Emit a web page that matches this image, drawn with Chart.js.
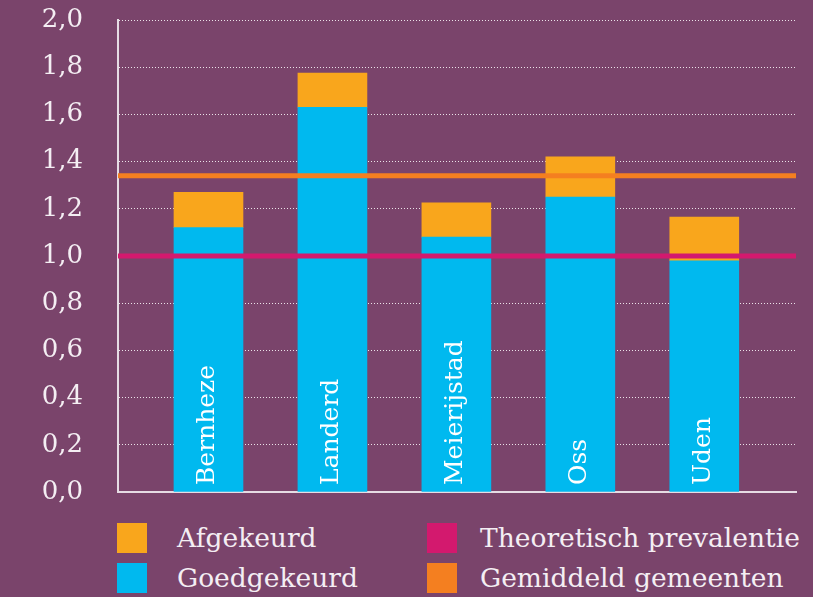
<!DOCTYPE html>
<html>
<head>
<meta charset="utf-8">
<script src="https://cdn.jsdelivr.net/npm/chart.js@4.4.0/dist/chart.umd.min.js"></script>
<style>
  html, body { margin: 0; padding: 0; background: #7a446b; }
  #wrap { position: relative; width: 813px; height: 597px; }
  #box { position: absolute; left: 0; top: 0; width: 813px; height: 505px; }
  .leg { position: absolute; font-family: "DejaVu Serif", serif; font-size: 26.5px; color: #f4eef3; line-height: 30px; white-space: nowrap; }
  .leg span { position: absolute; left: 0; top: 0; width: 30px; height: 30px; }
  .leg b { font-weight: normal; position: absolute; top: 0; }
</style>
</head>
<body>
<div id="wrap">
  <div id="box"><canvas id="chart"></canvas></div>
  <div id="legend"></div>
</div>
<script>
const categories = ['Bernheze', 'Landerd', 'Meierijstad', 'Oss', 'Uden'];
const goedgekeurd = [1.12, 1.63, 1.08, 1.25, 0.98];
const afgekeurd = [0.15, 0.145, 0.145, 0.17, 0.185];
const theoretisch = 1.0;
const gemiddeld = 1.34;

const colors = {
  afgekeurd: '#f9a61c',
  goedgekeurd: '#00b9ef',
  theoretisch: '#d3196e',
  gemiddeld: '#f47f20'
};

const labelFont = '"DejaVu Serif"';

// x runs as 1..5 so bars can sit off the axis edges like the original
const xMin = 0.27, xMax = 5.74;
const toPoints = arr => arr.map((v, i) => ({ x: i + 1, y: v }));

const barLabels = {
  id: 'barLabels',
  afterDatasetsDraw(chart) {
    const ctx = chart.ctx;
    const meta = chart.getDatasetMeta(0);
    const base = chart.scales.y.getPixelForValue(0);
    ctx.save();
    ctx.fillStyle = '#ffffff';
    ctx.font = '25px ' + labelFont;
    ctx.textAlign = 'left';
    ctx.textBaseline = 'middle';
    meta.data.forEach((bar, i) => {
      ctx.save();
      ctx.translate(bar.x - 1, base - 7);
      ctx.rotate(-Math.PI / 2);
      ctx.fillText(categories[i], 0, 0);
      ctx.restore();
    });
    ctx.restore();
  }
};

new Chart(document.getElementById('chart'), {
  type: 'bar',
  data: {
    datasets: [
      {
        label: 'Goedgekeurd',
        data: toPoints(goedgekeurd),
        backgroundColor: colors.goedgekeurd,
        barThickness: 69,
        stack: 'bars',
        order: 2
      },
      {
        label: 'Afgekeurd',
        data: toPoints(afgekeurd),
        backgroundColor: colors.afgekeurd,
        barThickness: 69,
        stack: 'bars',
        order: 2
      },
      {
        type: 'line',
        label: 'Theoretisch prevalentie',
        data: [{ x: xMin, y: theoretisch }, { x: xMax, y: theoretisch }],
        borderColor: colors.theoretisch,
        borderWidth: 5,
        pointRadius: 0,
        stack: 'ref1',
        order: 1
      },
      {
        type: 'line',
        label: 'Gemiddeld gemeenten',
        data: [{ x: xMin, y: gemiddeld }, { x: xMax, y: gemiddeld }],
        borderColor: colors.gemiddeld,
        borderWidth: 5,
        pointRadius: 0,
        stack: 'ref2',
        order: 1
      }
    ]
  },
  options: {
    responsive: true,
    maintainAspectRatio: false,
    animation: false,
    layout: { padding: { top: 20, right: 17, bottom: 13, left: 0 } },
    plugins: {
      legend: { display: false },
      tooltip: { enabled: false }
    },
    scales: {
      x: {
        type: 'linear',
        min: xMin,
        max: xMax,
        offset: false,
        stacked: true,
        grid: { display: false, drawTicks: false },
        ticks: { display: false },
        border: { color: '#e6dce4', width: 2 }
      },
      y: {
        stacked: true,
        min: 0,
        max: 2,
        afterFit(scale) {
          scale.width = 118;
          scale.paddingTop = 0;
          scale.paddingBottom = 0;
        },
        ticks: {
          stepSize: 0.2,
          padding: 35,
          color: '#f4eef3',
          font: { family: 'DejaVu Serif', size: 26 },
          callback: v => v.toFixed(1).replace('.', ',')
        },
        grid: {
          color: 'rgba(255,255,255,0.85)',
          lineWidth: 1,
          drawTicks: false
        },
        border: { color: '#e6dce4', width: 2, dash: [1, 2] }
      }
    }
  },
  plugins: [barLabels]
});

const legendItems = [
  { label: 'Afgekeurd', color: colors.afgekeurd, left: 117, top: 523 },
  { label: 'Goedgekeurd', color: colors.goedgekeurd, left: 117, top: 563 },
  { label: 'Theoretisch prevalentie', color: colors.theoretisch, left: 427, top: 523 },
  { label: 'Gemiddeld gemeenten', color: colors.gemiddeld, left: 427, top: 563 }
];
const legend = document.getElementById('legend');
legendItems.forEach(item => {
  const d = document.createElement('div');
  d.className = 'leg';
  d.style.left = item.left + 'px';
  d.style.top = item.top + 'px';
  d.innerHTML = '<span style="background:' + item.color + '"></span><b style="left:' +
    (item.left === 117 ? 60 : 53) + 'px">' + item.label + '</b>';
  legend.appendChild(d);
});
</script>
</body>
</html>
